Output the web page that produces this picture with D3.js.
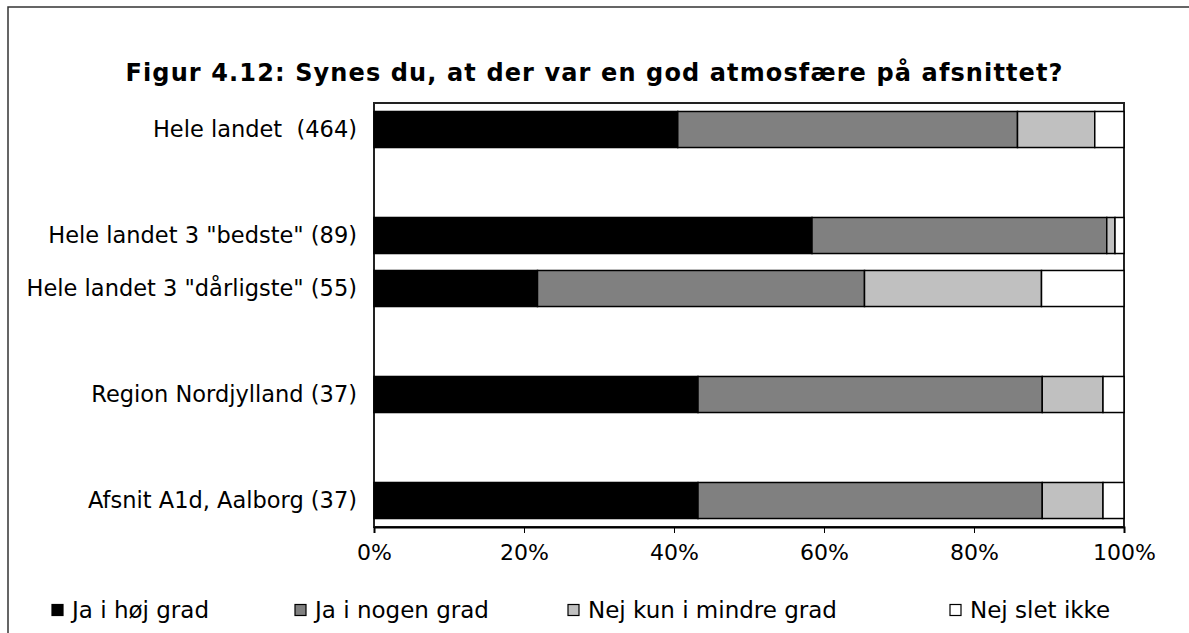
<!DOCTYPE html>
<html>
<head>
<meta charset="utf-8">
<script src="https://cdn.jsdelivr.net/npm/d3@7"></script>
<style>
  body { margin: 0; background: #fff; }
  svg { display: block; font-family: "DejaVu Sans", Verdana, sans-serif; }
</style>
</head>
<body>
<script>
// rows top to bottom, blank slots are spacers between the groups
var rows = ['r1', 'gap1', 'r2', 'r3', 'gap2', 'r4', 'gap3', 'r5'];
var rowLabels = ['Hele landet  (464)', 'Hele landet 3 "bedste" (89)', 'Hele landet 3 "dårligste" (55)',
                 'Region Nordjylland (37)', 'Afsnit A1d, Aalborg (37)'];
var rowKeys = ['r1', 'r2', 'r3', 'r4', 'r5'];

var seriesNames = ['Ja i høj grad', 'Ja i nogen grad', 'Nej kun i mindre grad', 'Nej slet ikke'];
var jaHoej    = [40.5, 58.4, 21.8, 43.2, 43.2];
var jaNogen   = [45.3, 39.3, 43.6, 45.9, 45.9];
var nejMindre = [10.3, 1.1, 23.6, 8.1, 8.1];
var nejSlet   = [3.9, 1.2, 11.0, 2.8, 2.8];
var colors = ['#000000', '#808080', '#c0c0c0', '#ffffff'];
var ticks = [0, 20, 40, 60, 80, 100];

var width = 1189, height = 633;
var plot = {left: 374, right: 1124, top: 103, bottom: 527};

var table = rowKeys.map(function(k, i) {
  return {key: k, label: rowLabels[i], s0: jaHoej[i], s1: jaNogen[i], s2: nejMindre[i], s3: nejSlet[i]};
});
var stacked = d3.stack().keys(['s0', 's1', 's2', 's3'])(table);

var svg = d3.select('body').append('svg')
  .attr('width', width)
  .attr('height', height);

// outer chart frame (runs off the right/bottom edge)
svg.append('rect')
  .attr('x', 8).attr('y', 7)
  .attr('width', 1300).attr('height', 800)
  .attr('fill', 'none')
  .attr('stroke', '#333')
  .attr('stroke-width', 1.5);

svg.append('text')
  .attr('x', 594).attr('y', 81)
  .attr('text-anchor', 'middle')
  .attr('textLength', 937)
  .attr('lengthAdjust', 'spacing')
  .style('font-weight', 'bold')
  .style('font-size', '24px')
  .text('Figur 4.12: Synes du, at der var en god atmosfære på afsnittet?');

var x = d3.scaleLinear().domain([0, 100]).range([plot.left, plot.right]);
var y = d3.scaleBand().domain(rows).range([plot.top, plot.bottom])
  .paddingInner(0.32).paddingOuter(0.16);

svg.append('rect')
  .attr('x', plot.left).attr('y', plot.top)
  .attr('width', plot.right - plot.left).attr('height', plot.bottom - plot.top)
  .attr('fill', '#fff')
  .attr('stroke', '#222')
  .attr('stroke-width', 2);

svg.append('g').selectAll('g')
  .data(stacked)
  .enter().append('g')
  .attr('fill', function(d, i) { return colors[i]; })
  .selectAll('rect')
  .data(function(d) { return d; })
  .enter().append('rect')
  .attr('x', function(d) { return x(d[0]); })
  .attr('y', function(d) { return y(d.data.key); })
  .attr('width', function(d) { return x(d[1]) - x(d[0]); })
  .attr('height', y.bandwidth())
  .attr('stroke', '#000')
  .attr('stroke-width', 1.5);

var xAxis = d3.axisBottom(x)
  .tickValues(ticks)
  .tickSize(6)
  .tickPadding(11)
  .tickFormat(function(d) { return d + '%'; });

var gx = svg.append('g')
  .attr('transform', 'translate(0,' + plot.bottom + ')')
  .call(xAxis);
gx.select('.domain').attr('stroke', '#000').attr('stroke-width', 2);
gx.selectAll('.tick line').attr('stroke', '#000');
gx.selectAll('.tick text')
  .style('font-family', '"DejaVu Sans", Verdana, sans-serif')
  .style('font-size', '22px')
  .attr('fill', '#000');

svg.append('g').selectAll('text')
  .data(table)
  .enter().append('text')
  .attr('x', 357)
  .attr('y', function(d) { return y(d.key) + y.bandwidth() / 2; })
  .attr('dy', '0.35em')
  .attr('text-anchor', 'end')
  .style('font-size', '22.5px')
  .style('white-space', 'pre')
  .text(function(d) { return d.label; });

var legendX = [52, 295, 568, 950];
var legend = svg.append('g').selectAll('g')
  .data(seriesNames)
  .enter().append('g')
  .attr('transform', function(d, i) { return 'translate(' + legendX[i] + ',610)'; });
legend.append('rect')
  .attr('x', 0).attr('y', -5.5)
  .attr('width', 11).attr('height', 11)
  .attr('fill', function(d, i) { return colors[i]; })
  .attr('stroke', '#000')
  .attr('stroke-width', 1.2);
legend.append('text')
  .attr('x', 20)
  .attr('dy', '0.35em')
  .style('font-size', '23px')
  .text(function(d) { return d; });
</script>
</body>
</html>
